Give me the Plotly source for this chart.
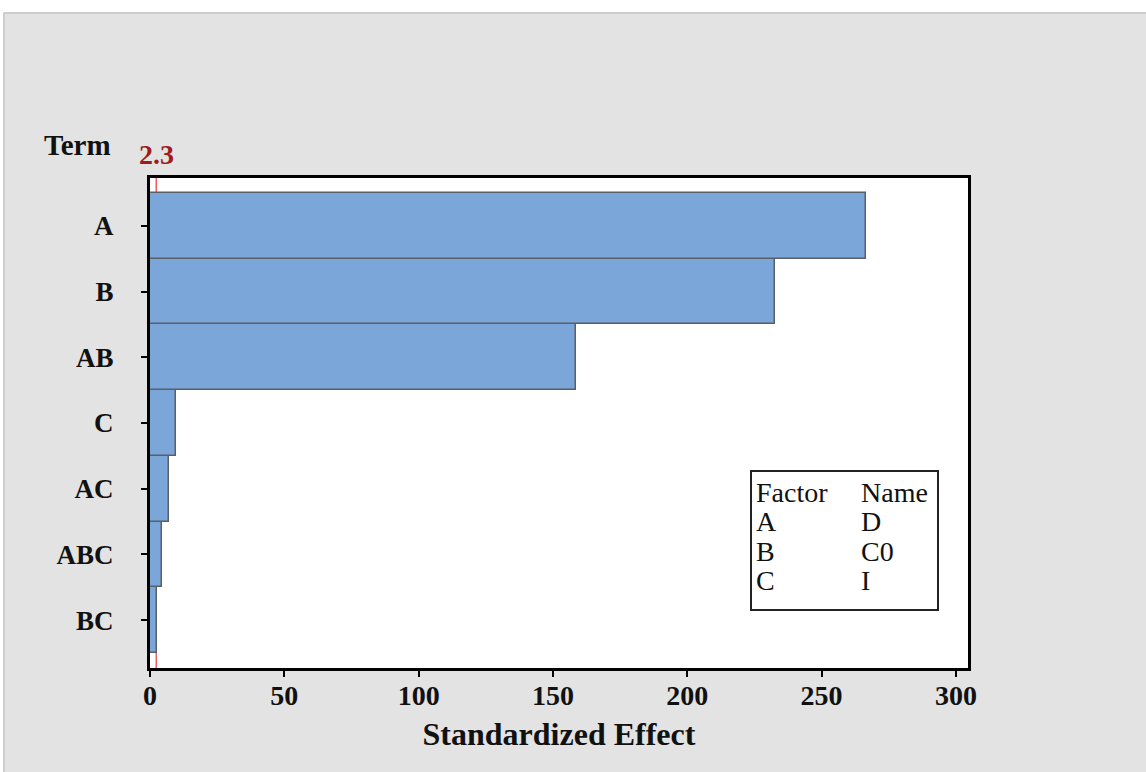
import plotly.graph_objects as go

# Pareto chart of standardized effects
terms = ["A", "B", "AB", "C", "AC", "ABC", "BC"]
effects = [266.6, 232.7, 158.6, 9.5, 7.2, 4.3, 2.7]
ref_value = 2.3
x_ticks = [0, 50, 100, 150, 200, 250, 300]
factor_codes = ["A", "B", "C"]
factor_names = ["D", "C0", "I"]

W, H = 1146, 772
L, R, T, B = 150, 968, 178, 668
pw, ph = R - L, B - T


def px(x):
    return (x - L) / pw


def py(y):
    return (B - y) / ph


serif = "Liberation Serif"
ink = "#111111"

fig = go.Figure()
fig.add_trace(go.Bar(
    y=terms[::-1],
    x=effects[::-1],
    orientation="h",
    width=1.0,
    marker=dict(color="#7aa6d9", line=dict(color="#5a5f66", width=1.5)),
    hoverinfo="x+y",
))

shapes = [
    # reference line at the critical value
    dict(type="line", xref="x", yref="paper", x0=ref_value, x1=ref_value,
         y0=0, y1=1, line=dict(color="#e01010", width=1), layer="below"),
    # white strip along the top / left edges of the page
    dict(type="rect", xref="paper", yref="paper", x0=px(0), x1=px(W),
         y0=py(12), y1=py(-2), fillcolor="white", line=dict(width=0), layer="above"),
    dict(type="rect", xref="paper", yref="paper", x0=px(-2), x1=px(3),
         y0=py(H + 2), y1=py(-2), fillcolor="white", line=dict(width=0), layer="above"),
    dict(type="line", xref="paper", yref="paper", x0=px(4), x1=px(W + 2),
         y0=py(13), y1=py(13), line=dict(color="#c6c6c6", width=1.5), layer="above"),
    dict(type="line", xref="paper", yref="paper", x0=px(4), x1=px(4),
         y0=py(13), y1=py(H + 2), line=dict(color="#c6c6c6", width=1.5), layer="above"),
    # factor key box
    dict(type="rect", xref="paper", yref="paper", x0=px(751), x1=px(938),
         y0=py(610), y1=py(471), fillcolor="white",
         line=dict(color="#222222", width=2), layer="above"),
]

annotations = [
    dict(text="<b>Term</b>", xref="paper", yref="paper", x=px(42), y=py(145),
         xanchor="left", yanchor="middle", showarrow=False,
         font=dict(family=serif, size=29, color=ink)),
    dict(text="<b>%s</b>" % ref_value, xref="x", yref="paper", x=ref_value, y=py(154),
         xanchor="center", yanchor="middle", showarrow=False,
         font=dict(family=serif, size=28, color="#a01c1c")),
]

key_font = dict(family=serif, size=28, color=ink)
rows = [("Factor", "Name")] + list(zip(factor_codes, factor_names))
for i, (c, n) in enumerate(rows):
    yy = 492 + i * 29.5
    annotations.append(dict(text=c, xref="paper", yref="paper", x=px(754), y=py(yy),
                            xanchor="left", yanchor="middle", showarrow=False, font=key_font))
    annotations.append(dict(text=n, xref="paper", yref="paper", x=px(859), y=py(yy),
                            xanchor="left", yanchor="middle", showarrow=False, font=key_font))

fig.update_layout(
    width=W, height=H,
    margin=dict(l=L, r=W - R, t=T, b=H - B),
    paper_bgcolor="#e3e3e3",
    plot_bgcolor="white",
    showlegend=False,
    bargap=0,
    shapes=shapes,
    annotations=annotations,
    xaxis=dict(
        range=[0, 304.5], tickvals=x_ticks, ticktext=[str(v) for v in x_ticks],
        showgrid=False, zeroline=False,
        showline=True, mirror=True, linecolor="black", linewidth=3,
        ticks="outside", ticklen=6, tickwidth=2, tickcolor="black",
        ticklabelstandoff=-6,
        tickfont=dict(family=serif, size=28, color=ink, weight="bold"),
        title=dict(text="<b>Standardized Effect</b>", standoff=14,
                   font=dict(family=serif, size=32, color=ink)),
    ),
    yaxis=dict(
        type="category", categoryorder="array", categoryarray=terms[::-1],
        range=[-0.73, 6.73],
        showgrid=False, zeroline=False,
        showline=True, mirror=True, linecolor="black", linewidth=3,
        ticks="outside", ticklen=6, tickwidth=2, tickcolor="black",
        ticklabelstandoff=22,
        tickfont=dict(family=serif, size=27, color=ink, weight="bold"),
    ),
)

fig.write_html("out.html")
